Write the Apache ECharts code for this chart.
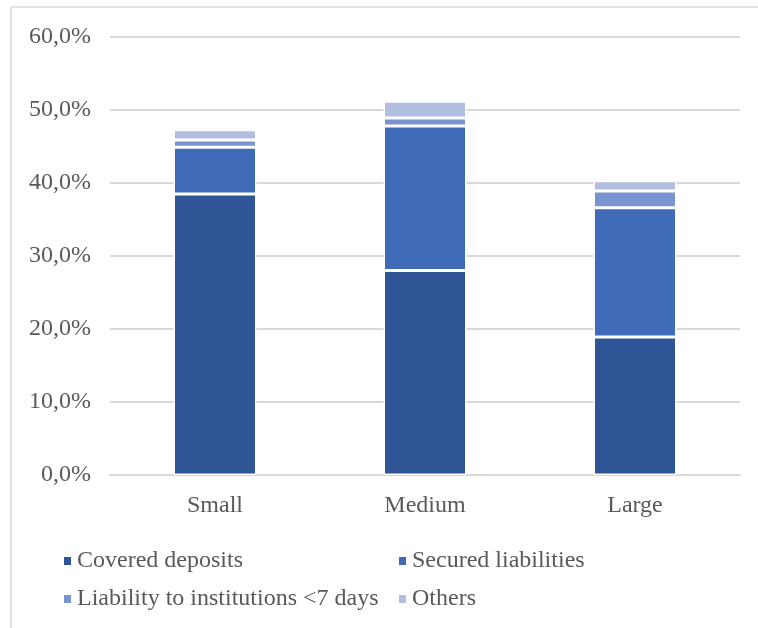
<!DOCTYPE html>
<html>
<head>
<meta charset="utf-8">
<script src="https://cdn.jsdelivr.net/npm/echarts@6/dist/echarts.min.js"></script>
<style>
  html, body { margin: 0; padding: 0; background: #fff; }
  #chart { position: absolute; left: 0; top: 0; width: 758px; height: 628px; }
  #frame { position: absolute; left: 10px; top: 6px; width: 800px; height: 700px;
           border-left: 2px solid #E3E3E3; border-top: 2px solid #E3E3E3; pointer-events: none; }
</style>
</head>
<body>
<div id="chart"></div>
<div id="frame"></div>
<script>
const categories = ['Small', 'Medium', 'Large'];
const coveredDeposits = [38.5, 28.0, 18.9];
const securedLiabilities = [6.4, 19.8, 17.7];
const liabilityInstitutions = [1.0, 1.1, 2.3];
const others = [1.4, 2.3, 1.4];
const seriesNames = ['Covered deposits', 'Secured liabilities', 'Liability to institutions <7 days', 'Others'];
const seriesColors = ['#2F5597', '#3F6BB8', '#7A94CF', '#B1BEDF'];
const seriesData = [coveredDeposits, securedLiabilities, liabilityInstitutions, others];

const FONT = '"Liberation Serif", "Times New Roman", serif';
const chart = echarts.init(document.getElementById('chart'));
const legendText = { fontFamily: FONT, fontSize: 24, color: '#595959', lineHeight: 24 };
chart.setOption({
  animation: false,
  grid: { left: 110, right: 18, top: 37, bottom: 153, containLabel: false },
  legend: [
    {
      orient: 'vertical', left: 57, top: 544, itemWidth: 9, itemHeight: 10, itemGap: 14,
      icon: 'rect', data: [seriesNames[0], seriesNames[2]], textStyle: legendText
    },
    {
      orient: 'vertical', left: 392, top: 544, itemWidth: 9, itemHeight: 10, itemGap: 14,
      icon: 'rect', data: [seriesNames[1], seriesNames[3]], textStyle: legendText
    }
  ],
  xAxis: {
    type: 'category', data: categories,
    axisLine: { lineStyle: { color: '#D9D9D9', width: 2 } },
    axisTick: { show: false },
    axisLabel: { fontFamily: FONT, fontSize: 24, color: '#595959', margin: 19 }
  },
  yAxis: {
    type: 'value', min: 0, max: 60, interval: 10,
    axisLine: { show: false }, axisTick: { show: false },
    splitLine: { lineStyle: { color: '#D9D9D9', width: 2 } },
    axisLabel: {
      fontFamily: FONT, fontSize: 24, color: '#595959', margin: 19,
      formatter: v => v.toFixed(1).replace('.', ',') + '%'
    }
  },
  series: seriesNames.map((name, i) => ({
    name, type: 'bar', stack: 'total', barWidth: 83,
    data: seriesData[i],
    itemStyle: { color: seriesColors[i], borderColor: '#ffffff', borderWidth: 1.5 }
  }))
});
</script>
</body>
</html>
